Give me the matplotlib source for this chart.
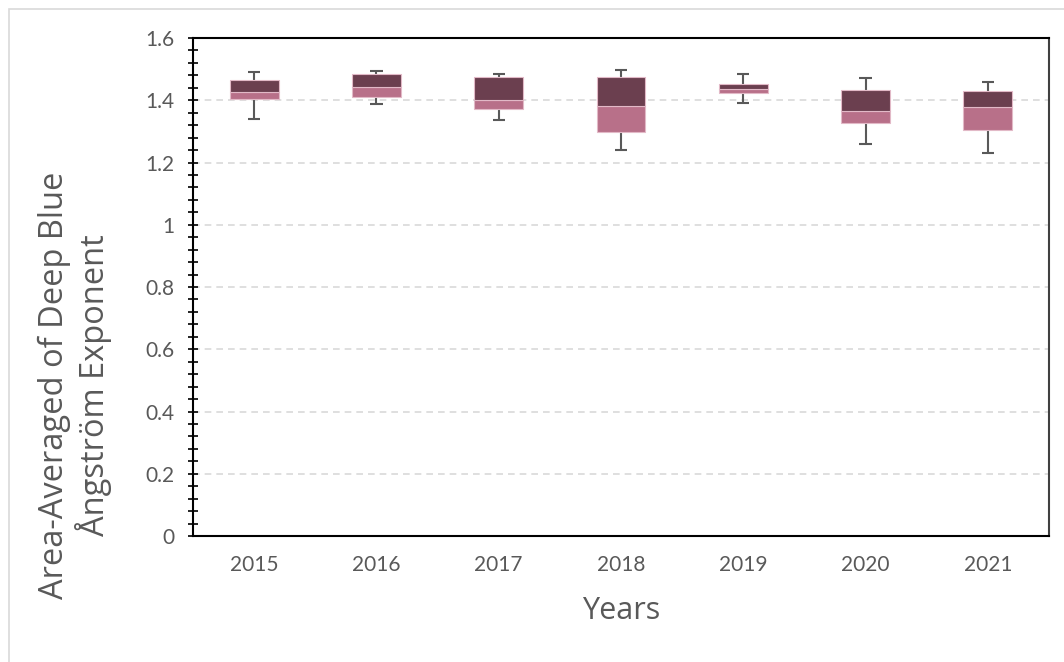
import matplotlib
matplotlib.use("Agg")
import matplotlib.pyplot as plt
import numpy as np
from matplotlib.patches import Rectangle
from matplotlib.ticker import MultipleLocator

years = ["2015", "2016", "2017", "2018", "2019", "2020", "2021"]
q_min = [1.340, 1.388, 1.338, 1.240, 1.390, 1.261, 1.231]
q1 = [1.403, 1.410, 1.371, 1.298, 1.422, 1.326, 1.304]
median = [1.427, 1.443, 1.401, 1.382, 1.436, 1.366, 1.377]
q3 = [1.464, 1.485, 1.476, 1.474, 1.451, 1.434, 1.429]
q_max = [1.490, 1.495, 1.485, 1.496, 1.484, 1.471, 1.460]
y_ticks = [0, 0.2, 0.4, 0.6, 0.8, 1.0, 1.2, 1.4, 1.6]
y_tick_labels = ["0", "0.2", "0.4", "0.6", "0.8", "1", "1.2", "1.4", "1.6"]

dark = "#6b3f4f"
light = "#b87089"
grey = "#595959"

q_min, q1, median, q3, q_max = map(np.array, (q_min, q1, median, q3, q_max))
x = np.arange(len(years))

fig = plt.figure(figsize=(10.64, 6.62), dpi=100)
ax = fig.add_axes((0.1814, 0.1903, 0.8045, 0.7523))

# whiskers: stems from the box edges out to min / max, with caps at the far ends
ax.vlines(x, q3, q_max, color=grey, lw=1.5, zorder=2)
ax.vlines(x, q_min, q1, color=grey, lw=1.5, zorder=2)
ax.hlines(q_max, x - 0.05, x + 0.05, color=grey, lw=1.5, zorder=2)
ax.hlines(q_min, x - 0.05, x + 0.05, color=grey, lw=1.5, zorder=2)

ax.bar(x, median - q1, bottom=q1, width=0.4, color=light,
       edgecolor="#e2b9c7", linewidth=0.8, zorder=3)
ax.bar(x, q3 - median, bottom=median, width=0.4, color=dark,
       edgecolor="#e2b9c7", linewidth=0.8, zorder=3)

ax.set_xlim(-0.5, len(years) - 0.5)
ax.set_ylim(0, 1.6)
ax.set_xticks(x)
ax.set_xticklabels(years)
ax.set_yticks(y_ticks)
ax.set_yticklabels(y_tick_labels)
ax.yaxis.set_minor_locator(MultipleLocator(0.04))

for y in y_ticks[1:-1]:
    ax.axhline(y, color="#d9d9d9", lw=1.2, ls=(0, (4, 3)), zorder=1)

for s in ax.spines.values():
    s.set_color("black")
    s.set_linewidth(1.5)
ax.spines["right"].set_color("#404040")

ax.tick_params(axis="x", length=0, pad=14, labelsize=15, labelcolor=grey)
ax.tick_params(axis="y", which="both", direction="inout", length=7, width=1.2,
               labelsize=15, labelcolor=grey, pad=10)
for lab in ax.get_xticklabels() + ax.get_yticklabels():
    lab.set_family("Lato")

fig.text(0.5837, 1 - 611 / 662, "Years", ha="center", va="center",
         fontsize=22, color=grey, family="Open Sans")
fig.text(75 / 1064, 1 - 385 / 662, "Area-Averaged of Deep Blue\nÅngström Exponent",
         rotation=90, ha="center", va="center", multialignment="center",
         fontsize=23.5, color=grey, family="Open Sans", linespacing=1.15)

# thin frame around the chart
fig.add_artist(Rectangle((9 / 1064, -0.1), 1.2, 1 - 9 / 662 + 0.1,
                         transform=fig.transFigure, fill=False,
                         edgecolor="#d9d9d9", linewidth=1.2))

fig.savefig("out.png", dpi=100)
